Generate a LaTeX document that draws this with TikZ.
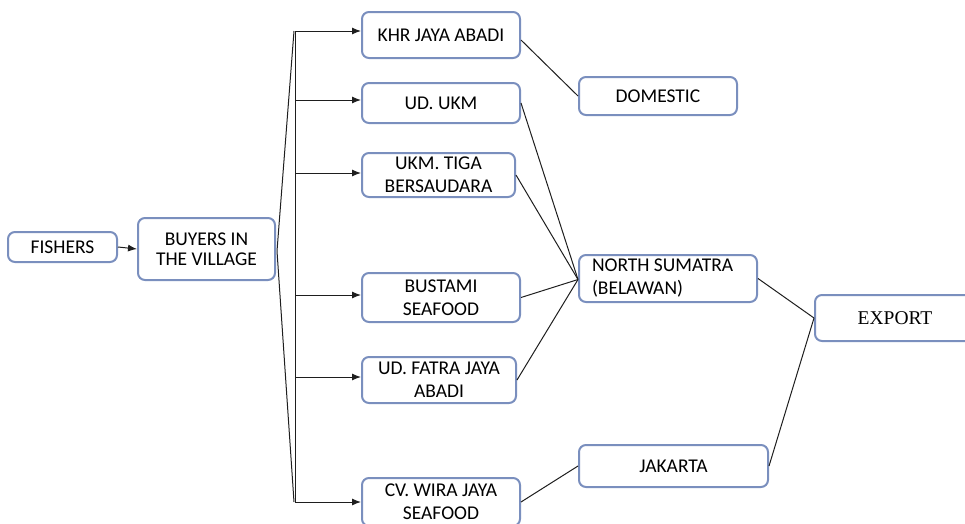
\documentclass[tikz,border=0pt]{standalone}
\usepackage{fontspec}
\setmainfont{Carlito}
\newfontfamily\tnr{Liberation Serif}
\usetikzlibrary{arrows.meta}
\definecolor{boxcol}{RGB}{122,143,190}
\definecolor{linecol}{RGB}{30,30,30}
\tikzset{
  box/.style={draw=boxcol, line width=2pt, rounded corners=7pt, fill=white,
    inner sep=0pt, align=center, text=black,
    font=\fontsize{19.5}{23}\selectfont},
  conn/.style={draw=linecol, line width=1pt},
  arr/.style={conn, -{Latex[length=9pt,width=7pt]}},
}
\begin{document}
\begin{tikzpicture}[x=1pt,y=-1pt]
\useasboundingbox (0,0) rectangle (965,523);
% nodes
\node[box, minimum width=109pt, minimum height=30pt] (fish) at (62.5,247) {FISHERS};
\node[box, minimum width=137pt, minimum height=62pt, font=\fontsize{19.5}{20}\selectfont] (buy) at (206.5,249) {BUYERS IN\\THE VILLAGE};
\node[box, minimum width=158pt, minimum height=46pt] (khr) at (441,35) {KHR JAYA ABADI};
\node[box, minimum width=158pt, minimum height=40pt] (ukm) at (441,103) {UD. UKM};
\node[box, minimum width=153pt, minimum height=44pt] (tiga) at (438.5,175) {UKM. TIGA\\BERSAUDARA};
\node[box, minimum width=158pt, minimum height=49pt] (bus) at (441,297.5) {BUSTAMI\\SEAFOOD};
\node[box, minimum width=154pt, minimum height=46pt] (fatra) at (439,380) {UD. FATRA JAYA\\ABADI};
\node[box, minimum width=158pt, minimum height=48pt] (wira) at (441,502) {CV. WIRA JAYA\\SEAFOOD};
\node[box, minimum width=158pt, minimum height=38pt] (dom) at (658,96) {DOMESTIC};
\node[box, minimum width=178pt, minimum height=47pt, text width=152pt, align=flush left, inner xsep=13pt] (ns) at (668,278.5) {NORTH SUMATRA\\(BELAWAN)};
\node[box, minimum width=160pt, minimum height=46pt, font=\tnr\fontsize{19.5}{23}\selectfont] (exp) at (895,318) {EXPORT};
\node[box, minimum width=189pt, minimum height=42pt] (jak) at (673.5,466) {JAKARTA};
% bracket coordinates
\coordinate (apex) at (277,251);
\coordinate (ttop) at (294,31);
\coordinate (tbot) at (294,502);
\coordinate (v1) at (295,31);
\coordinate (v2) at (295,100);
\coordinate (v3) at (295,173);
\coordinate (v4) at (295,295);
\coordinate (v5) at (295,377);
\coordinate (v6) at (295,502);
% connectors
\draw[arr] (fish.east) -- (buy.west);
\draw[conn] (ttop) -- (apex) -- (tbot);
\draw[conn] (v1) -- (v6);
\draw[arr] (v1) -- (v1 -| khr.west);
\draw[arr] (v2) -- (v2 -| ukm.west);
\draw[arr] (v3) -- (v3 -| tiga.west);
\draw[arr] (v4) -- (v4 -| bus.west);
\draw[arr] (v5) -- (v5 -| fatra.west);
\draw[arr] (v6) -- (v6 -| wira.west);
\draw[conn] ([yshift=-5pt]khr.east) -- (dom.west);
\draw[conn] (ukm.east) -- ([yshift=-1pt]ns.west);
\draw[conn] (tiga.east) -- ([yshift=-1pt]ns.west);
\draw[conn] (bus.east) -- ([yshift=-1pt]ns.west);
\draw[conn] (fatra.east) -- ([yshift=-1pt]ns.west);
\draw[conn] (wira.east) -- (jak.west);
\draw[conn] (ns.east) -- (exp.west);
\draw[conn] (jak.east) -- (exp.west);
\end{tikzpicture}
\end{document}
